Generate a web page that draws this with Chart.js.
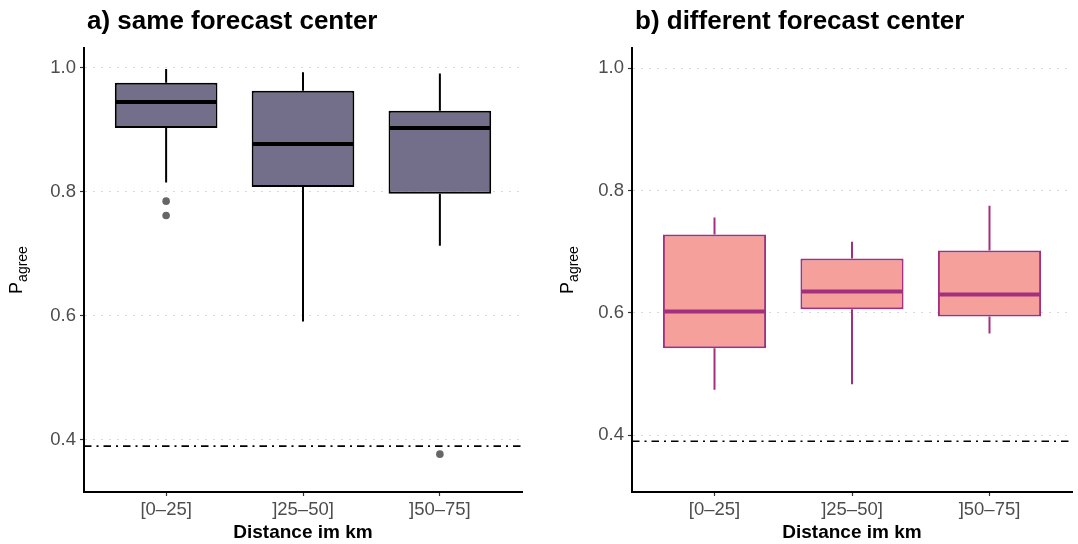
<!DOCTYPE html>
<html>
<head>
<meta charset="utf-8">
<script src="https://cdn.jsdelivr.net/npm/chart.js@4/dist/chart.umd.min.js"></script>
<style>
  html, body { margin: 0; padding: 0; background: #ffffff; }
  body { width: 1078px; height: 544px; position: relative; overflow: hidden; }
  canvas { position: absolute; top: 0; }
</style>
</head>
<body>
<canvas id="panelA" width="540" height="544" style="left:0;width:540px;height:544px"></canvas>
<canvas id="panelB" width="538" height="544" style="left:540px;width:538px;height:544px"></canvas>
<script>
// ---------- data ----------
const categories = ['[0–25]', ']25–50]', ']50–75]'];
const yTickValues = [0.4, 0.6, 0.8, 1.0];
const chanceLevel = 0.39;

const sameLower   = [0.815, 0.591, 0.713];
const sameQ1      = [0.903, 0.808, 0.797];
const sameMedian  = [0.945, 0.877, 0.903];
const sameQ3      = [0.976, 0.963, 0.931];
const sameUpper   = [0.998, 0.993, 0.991];
const sameOutliers = [[0.785, 0.762], [], [0.377]];

const diffLower   = [0.474, 0.483, 0.566];
const diffQ1      = [0.542, 0.606, 0.594];
const diffMedian  = [0.602, 0.635, 0.630];
const diffQ3      = [0.728, 0.689, 0.702];
const diffUpper   = [0.756, 0.716, 0.775];
const diffOutliers = [[], [], []];

const FONT = '"Liberation Sans", Arial, Helvetica, sans-serif';
const X_MIN = -0.6, X_MAX = 2.6;

function makePanel(canvasId, p) {
  const boxData = categories.map((c, i) => ({ x: i, y: [p.q1[i], p.q3[i]] }));
  const outlierData = [];
  p.outliers.forEach((arr, i) => arr.forEach(v => outlierData.push({ x: i, y: v })));
  const refData = [{ x: X_MIN, y: chanceLevel }, { x: X_MAX, y: chanceLevel }];

  const extras = {
    id: 'boxExtras',
    beforeDatasetsDraw(chart) {
      const ctx = chart.ctx, ys = chart.scales.y;
      const meta = chart.getDatasetMeta(0);
      ctx.save();
      ctx.strokeStyle = p.stroke;
      ctx.lineWidth = p.whiskerWidth;
      meta.data.forEach((bar, i) => {
        ctx.beginPath();
        ctx.moveTo(bar.x, ys.getPixelForValue(p.q3[i]));
        ctx.lineTo(bar.x, ys.getPixelForValue(p.upper[i]));
        ctx.moveTo(bar.x, ys.getPixelForValue(p.q1[i]));
        ctx.lineTo(bar.x, ys.getPixelForValue(p.lower[i]));
        ctx.stroke();
      });
      ctx.restore();
    },
    afterDatasetsDraw(chart) {
      const ctx = chart.ctx, ys = chart.scales.y;
      const meta = chart.getDatasetMeta(0);
      ctx.save();
      ctx.strokeStyle = p.medianColor;
      ctx.lineWidth = 4;
      meta.data.forEach((bar, i) => {
        const y = ys.getPixelForValue(p.median[i]);
        ctx.beginPath();
        ctx.moveTo(bar.x - bar.width / 2 + 1, y);
        ctx.lineTo(bar.x + bar.width / 2 - 1, y);
        ctx.stroke();
      });
      ctx.restore();
    },
    afterDraw(chart) {
      const ctx = chart.ctx, ca = chart.chartArea;
      ctx.save();
      ctx.fillStyle = '#000000';
      ctx.font = 'bold 26px ' + FONT;
      ctx.textAlign = 'left';
      ctx.textBaseline = 'alphabetic';
      ctx.fillText(p.title, ca.left + 3, 29);
      ctx.font = 'bold 19px ' + FONT;
      ctx.textAlign = 'center';
      ctx.fillText('Distance im km', (ca.left + ca.right) / 2, 538);
      ctx.font = '18px ' + FONT;
      const wP = ctx.measureText('P').width;
      ctx.font = '14px ' + FONT;
      const wSub = ctx.measureText('agree').width;
      const total = wP + wSub;
      const cy = (ca.top + ca.bottom) / 2;
      ctx.translate(p.yTitleX, cy + total / 2);
      ctx.rotate(-Math.PI / 2);
      ctx.textAlign = 'left';
      ctx.font = '18px ' + FONT;
      ctx.fillText('P', 0, 0);
      ctx.font = '14px ' + FONT;
      ctx.fillText('agree', wP, 5);
      ctx.restore();
    }
  };

  return new Chart(document.getElementById(canvasId), {
    type: 'bar',
    data: {
      datasets: [
        {
          type: 'bar',
          data: boxData,
          backgroundColor: p.fill,
          borderColor: p.stroke,
          borderWidth: 2,
          borderSkipped: false,
          barPercentage: 0.75,
          categoryPercentage: 1,
          order: 3
        },
        {
          type: 'scatter',
          data: outlierData,
          pointRadius: 3.8,
          pointBackgroundColor: '#666666',
          pointBorderWidth: 0,
          order: 2
        },
        {
          type: 'line',
          data: refData,
          borderColor: '#000000',
          borderWidth: 1.6,
          borderDash: [7.5, 5, 2, 5],
          pointRadius: 0,
          fill: false,
          order: 1
        }
      ]
    },
    options: {
      responsive: false,
      animation: false,
      events: [],
      layout: { padding: { left: 0, top: 48, right: p.padRight, bottom: 0 } },
      plugins: { legend: { display: false }, tooltip: { enabled: false }, title: { display: false } },
      scales: {
        x: {
          type: 'linear',
          offset: false,
          min: X_MIN, max: X_MAX,
          afterBuildTicks(scale) { scale.ticks = categories.map((c, i) => ({ value: i })); },
          afterFit(scale) { scale.height = 52; },
          ticks: {
            callback: (v) => categories[v],
            font: { family: FONT, size: 18.5 },
            color: '#4D4D4D',
            padding: 3,
            maxRotation: 0,
            autoSkip: false
          },
          grid: { display: true, offset: false, drawOnChartArea: false, drawTicks: true, tickLength: 4, tickColor: '#333333', tickWidth: 1.2 },
          border: { display: true, color: '#000000', width: 2 }
        },
        y: {
          type: 'linear',
          min: p.yMin, max: p.yMax,
          afterBuildTicks(scale) { scale.ticks = yTickValues.map(v => ({ value: v })); },
          afterFit(scale) { scale.width = p.axisW; },
          ticks: {
            callback: (v) => v.toFixed(1),
            font: { family: FONT, size: 18.5 },
            color: '#4D4D4D',
            padding: 4
          },
          grid: { display: true, drawOnChartArea: true, color: '#DADADA', lineWidth: 1, drawTicks: true, tickLength: 4, tickColor: '#333333', tickWidth: 1.2 },
          border: { display: true, color: '#000000', width: 2, dash: [2, 6] }
        }
      }
    },
    plugins: [extras]
  });
}

makePanel('panelA', {
  title: 'a) same forecast center',
  lower: sameLower, q1: sameQ1, median: sameMedian, q3: sameQ3, upper: sameUpper, outliers: sameOutliers,
  fill: '#736E8A', stroke: '#000000', medianColor: '#000000', whiskerWidth: 2,
  yMin: 0.316, yMax: 1.032, axisW: 84, padRight: 18, yTitleX: 22
});
makePanel('panelB', {
  title: 'b) different forecast center',
  lower: diffLower, q1: diffQ1, median: diffMedian, q3: diffQ3, upper: diffUpper, outliers: diffOutliers,
  fill: '#F5A09B', stroke: '#A3307E', medianColor: '#A3307E', whiskerWidth: 2,
  yMin: 0.307, yMax: 1.033, axisW: 92, padRight: 6, yTitleX: 33
});
</script>
</body>
</html>
